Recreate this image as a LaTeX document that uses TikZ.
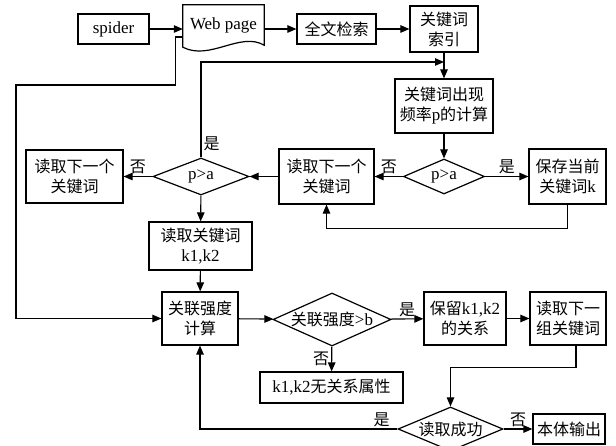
\documentclass[tikz,border=0pt]{standalone}
\usepackage{fontspec}
\setmainfont{Liberation Serif}[Scale=1.06]
\newfontfamily\cjk{Noto Sans CJK SC}
\newcommand{\zh}[1]{{\cjk #1}}
\usetikzlibrary{arrows.meta,positioning,shapes.geometric}

\begin{document}
\begin{tikzpicture}[
  x=1pt,y=-1pt,
  >={Triangle[length=9pt,width=7.5pt]},
  every node/.style={font=\fontsize{16}{20}\selectfont},
  flowbox/.style={draw,line width=1.2pt,inner sep=1pt,align=center},
  decision/.style={diamond,draw,line width=1.2pt,inner sep=0pt,aspect=2.4},
  link/.style={line width=1.1pt},
  tag/.style={inner sep=2pt}
]
  \useasboundingbox (0,0) rectangle (616,446);
  % top row
  \node[flowbox,minimum width=71pt,minimum height=30pt] (spider) at (113.5,29) {spider};
  \node[minimum width=81pt,minimum height=40pt,inner sep=0pt] (web) at (223.5,25) {Web page};
  \draw[line width=1.2pt] (web.north west) -- (web.north east) -- (web.south east)
    .. controls +(-24,-14) and +(27,14) .. ([yshift=-2pt]web.south west) -- cycle;
  \node[flowbox,minimum width=79pt,minimum height=30pt] (fts) at (336.5,29) {\zh{全文检索}};
  \node[flowbox,minimum width=68pt,minimum height=46pt] (idx) at (444,29) {\zh{关键词}\\\zh{索引}};
  % keyword frequency loop
  \node[flowbox,minimum width=98pt,minimum height=54pt] (freq) at (444,106) {\zh{关键词出现}\\\zh{频率}p\zh{的计算}};
  \node[decision,minimum width=81pt,minimum height=35pt] (dia1) at (444,176.5) {p>a};
  \node[flowbox,minimum width=95pt,minimum height=55pt] (next1) at (326.5,176.5) {\zh{读取下一个}\\\zh{关键词}};
  \node[flowbox,minimum width=77pt,minimum height=55pt] (save) at (567.5,176.5) {\zh{保存当前}\\\zh{关键词}k};
  \node[decision,minimum width=96pt,minimum height=37pt] (dia2) at (201,176.5) {p>a};
  \node[flowbox,minimum width=97pt,minimum height=53pt] (next0) at (74.5,176.5) {\zh{读取下一个}\\\zh{关键词}};
  \node[flowbox,minimum width=103pt,minimum height=48pt] (rdk) at (200.5,246) {\zh{读取关键词}\\k1,k2};
  % association strength
  \node[flowbox,minimum width=76pt,minimum height=53pt] (calc) at (200,318.5) {\zh{关联强度}\\\zh{计算}};
  \node[decision,minimum width=118pt,minimum height=53pt] (dia3) at (332,319.5) {\zh{关联强度}>b};
  \node[flowbox,minimum width=82pt,minimum height=53pt] (keep) at (465,318.5) {\zh{保留}k1,k2\\\zh{的关系}};
  \node[flowbox,minimum width=76pt,minimum height=53pt] (next2) at (568,318.5) {\zh{读取下一}\\\zh{组关键词}};
  \node[flowbox,minimum width=143pt,minimum height=31pt] (norel) at (331.5,387.5) {k1,k2\zh{无关系属性}};
  \node[decision,minimum width=105pt,minimum height=44pt] (dia4) at (450.5,429) {\zh{读取成功}};
  \node[flowbox,minimum width=72pt,minimum height=30pt] (out) at (569,429) {\zh{本体输出}};
  \coordinate (join) at (444,62);
  \coordinate (lft) at (16,85);

  \draw[link,->] (spider.east) -- (spider.east -| web.west);
  \draw[link,->] (web.east |- fts.west) -- (fts.west);
  \foreach \a/\b in {fts/idx,idx/freq,freq/dia1,next1/dia2,dia2/rdk,rdk/calc,calc/dia3,keep/next2}
    \draw[link,->] (\a) -- (\b);
  \draw[link,->] (dia1) -- node[tag,above]{\zh{否}} (next1);
  \draw[link,->] (dia1) -- node[tag,above]{\zh{是}} (save);
  \draw[link,->] (dia2) -- node[tag,above]{\zh{否}} (next0);
  \draw[link,->] (dia3) -- node[tag,above]{\zh{是}} (keep);
  \draw[link,->] (dia3) -- node[tag,left]{\zh{否}} (norel);
  \draw[link,->] (dia4) -- node[tag,above]{\zh{否}} (out);
  % feedback lines
  \draw[link,->] (dia2.north) |- node[tag,pos=0.07,right]{\zh{是}} (join);
  \draw[link,->] (save.south) -- ++(0,24) -| (next1.south);
  \draw[link,->] ([xshift=8pt]next2.south) -- ++(0,22) -| (dia4.north);
  \draw[link,->] (dia4.west) -| node[tag,pos=0.04,above]{\zh{是}} (calc.south);
  \draw[link,->] ([yshift=-12pt]web.west) -- ++(-7,0) |- (lft) |- (calc.west);
\end{tikzpicture}
\end{document}
